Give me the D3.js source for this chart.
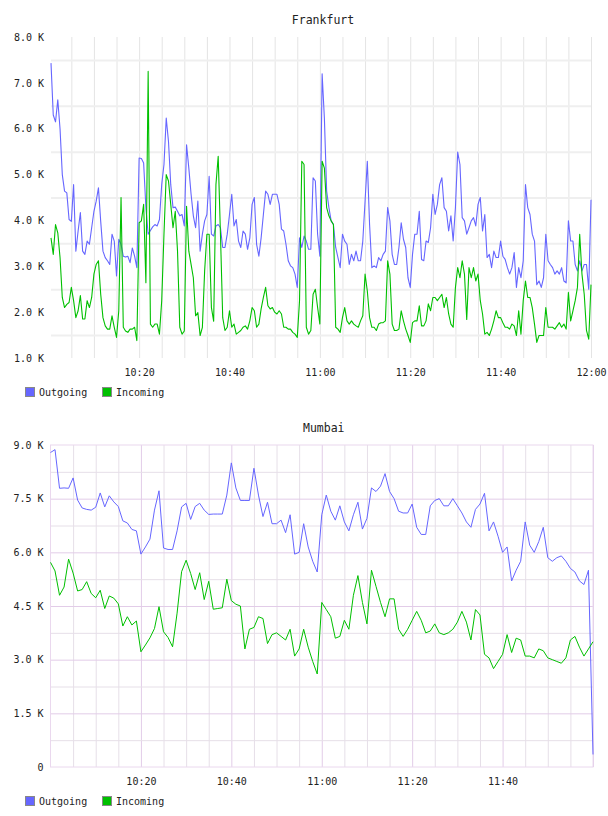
<!DOCTYPE html>
<html>
<head>
<meta charset="utf-8">
<script src="https://cdn.jsdelivr.net/npm/d3@7"></script>
<style>
  html, body { margin: 0; padding: 0; background: #fff; }
  svg { display: block; }
  text { font-family: "DejaVu Sans Mono", monospace; fill: #222; }
</style>
</head>
<body>
<div id="chart"></div>
<script>
// values in thousands, Frankfurt sampled every 30 s from 10:00:30
const frankfurtOut = [
  7.43, 6.30, 6.15, 6.63, 6.00, 5.00, 4.64, 4.60, 4.02, 3.98,
  4.78, 3.33, 3.77, 4.17, 3.33, 3.26, 3.55, 3.48, 3.84, 4.20,
  4.42, 4.71, 3.98, 3.33, 3.19, 3.12, 3.04, 3.70, 3.55, 2.79,
  3.59, 3.48, 3.22, 3.20, 3.22, 3.08, 3.40, 3.22, 2.97, 5.36,
  5.35, 5.25, 4.28, 3.70, 3.78, 3.86, 3.91, 3.88, 4.02, 4.78,
  5.22, 6.23, 5.72, 4.78, 4.28, 4.29, 4.20, 4.10, 4.13, 3.88,
  5.65, 5.14, 4.57, 4.10, 3.84, 4.42, 3.33, 3.70, 3.99, 4.13,
  4.96, 3.70, 3.66, 3.88, 3.91, 3.84, 3.41, 3.41, 3.70, 4.13,
  4.57, 3.88, 4.02, 3.55, 3.41, 3.77, 3.70, 3.37, 3.62, 4.35,
  4.50, 3.48, 3.22, 3.62, 4.13, 4.64, 4.57, 4.35, 4.57, 4.57,
  4.57, 4.35, 3.81, 3.77, 3.48, 3.12, 3.01, 2.97, 2.83, 2.54,
  3.62, 3.41, 3.66, 3.55, 3.37, 3.37, 4.93, 4.86, 3.70, 3.22,
  7.20, 6.23, 4.64, 4.28, 3.99, 3.91, 3.41, 3.19, 2.97, 3.70,
  3.55, 3.48, 3.04, 3.26, 3.12, 3.33, 3.12, 3.12, 3.55, 4.42,
  5.29, 3.91, 2.97, 3.01, 2.97, 3.19, 3.12, 3.26, 3.33, 4.28,
  3.99, 3.26, 3.04, 3.04, 3.41, 3.95, 3.59, 3.41, 2.75, 2.54,
  3.26, 3.70, 3.70, 4.20, 3.15, 3.12, 3.55, 3.52, 3.84, 4.57,
  4.13, 4.35, 4.78, 4.93, 4.28, 4.20, 3.77, 4.10, 3.55, 4.28,
  5.49, 5.22, 4.06, 3.99, 3.70, 3.84, 3.99, 4.06, 3.88, 4.35,
  4.50, 3.77, 4.13, 3.19, 3.26, 2.97, 3.33, 3.19, 3.19, 3.55,
  3.22, 3.15, 2.97, 2.83, 2.97, 3.30, 2.54, 2.97, 2.75, 3.12,
  4.78, 4.28, 4.13, 3.70, 3.55, 2.60, 2.68, 2.54, 2.75, 3.70,
  3.12, 3.04, 2.97, 2.83, 2.90, 2.83, 2.97, 2.68, 2.64, 3.99,
  3.55, 3.55, 3.04, 2.90, 3.12, 2.90, 3.04, 3.04, 2.50, 4.45
];
const frankfurtIn = [
  3.62, 3.26, 3.91, 3.73, 3.19, 2.32, 2.10, 2.17, 2.21, 2.54,
  2.25, 1.88, 2.03, 2.36, 1.85, 1.85, 2.25, 2.10, 2.32, 2.83,
  3.04, 3.12, 2.39, 1.88, 1.70, 1.63, 1.63, 1.92, 1.67, 1.45,
  2.03, 4.50, 1.67, 1.59, 1.56, 1.63, 1.63, 1.67, 1.38, 3.95,
  3.99, 4.35, 2.64, 7.25, 1.74, 1.67, 1.74, 1.74, 1.52, 2.25,
  3.70, 5.00, 4.86, 4.35, 3.84, 4.20, 3.33, 1.67, 1.52, 1.59,
  4.31, 3.33, 3.04, 2.75, 1.92, 1.99, 1.49, 1.67, 2.90, 3.70,
  3.70, 2.10, 1.80, 4.78, 5.40, 3.70, 1.88, 1.60, 1.67, 2.03,
  1.67, 1.74, 1.52, 1.56, 1.60, 1.67, 1.70, 1.63, 1.81, 2.10,
  2.03, 1.67, 1.74, 2.07, 2.32, 2.54, 2.14, 2.07, 2.10, 2.00,
  1.96, 2.03, 1.96, 1.67, 1.67, 1.63, 1.63, 1.56, 1.52, 1.45,
  2.25, 5.29, 5.22, 1.67, 1.52, 1.60, 2.39, 2.50, 2.10, 1.74,
  5.29, 5.14, 4.28, 4.10, 3.99, 3.91, 1.67, 1.63, 1.56, 1.88,
  2.10, 1.81, 1.74, 1.81, 1.74, 1.70, 1.67, 1.81, 1.92, 2.83,
  2.46, 1.88, 1.67, 1.67, 1.60, 1.74, 1.77, 1.77, 1.81, 3.12,
  2.83, 1.74, 1.60, 1.60, 1.63, 2.03, 1.81, 1.63, 1.49, 1.34,
  1.77, 1.81, 1.81, 2.14, 1.70, 1.70, 1.81, 2.18, 2.03, 2.32,
  2.32, 2.25, 2.32, 2.39, 2.10, 2.32, 1.96, 1.74, 1.67, 2.54,
  2.97, 2.75, 3.12, 2.83, 1.84, 2.97, 2.75, 2.97, 2.68, 2.83,
  2.25, 1.96, 1.52, 1.56, 1.49, 1.63, 1.81, 2.03, 1.88, 1.88,
  1.77, 1.67, 1.67, 1.63, 1.74, 1.70, 1.49, 2.03, 1.52, 2.25,
  2.68, 2.32, 2.32, 2.10, 1.74, 1.34, 1.49, 1.49, 1.49, 2.10,
  1.67, 1.67, 1.67, 1.63, 1.70, 1.77, 1.67, 1.74, 1.63, 2.43,
  1.81, 2.03, 2.25, 2.54, 3.70, 2.83, 2.39, 1.60, 1.41, 2.60
];

// Mumbai sampled every minute from 10:00
const mumbaiOut = [
  8.79, 8.87, 7.79, 7.80, 7.79, 8.08, 7.46, 7.24, 7.20, 7.18,
  7.26, 7.66, 7.27, 7.58, 7.41, 7.28, 6.88, 6.82, 6.64, 6.60,
  5.95, 6.15, 6.37, 7.18, 7.72, 6.12, 6.08, 6.08, 6.60, 7.27,
  7.37, 6.92, 7.28, 7.37, 7.18, 7.06, 7.07, 7.07, 7.07, 7.60,
  8.50, 7.80, 7.45, 7.45, 7.45, 8.35, 7.60, 7.00, 7.40, 6.80,
  6.80, 6.90, 6.55, 7.05, 5.95, 6.00, 6.80, 6.15, 5.75, 5.45,
  7.05, 7.60, 7.15, 6.90, 7.30, 6.85, 6.60, 7.05, 7.40, 6.65,
  6.95, 7.80, 7.70, 7.85, 8.20, 7.70, 7.50, 7.15, 7.10, 7.10,
  7.35, 6.70, 6.50, 6.50, 7.30, 7.45, 7.50, 7.30, 7.30, 7.50,
  7.30, 7.10, 6.85, 6.70, 7.20, 7.35, 7.65, 6.60, 6.85, 6.45,
  6.00, 6.15, 5.20, 5.50, 5.75, 6.85, 6.20, 6.00, 6.30, 6.70,
  5.85, 5.75, 5.85, 5.90, 5.75, 5.55, 5.45, 5.20, 5.10, 5.50,
  0.35
];
const mumbaiIn = [
  5.72, 5.48, 4.80, 5.03, 5.81, 5.42, 4.92, 4.96, 5.18, 4.85,
  4.73, 4.94, 4.43, 4.78, 4.72, 4.56, 3.94, 4.20, 3.97, 4.08,
  3.22, 3.41, 3.61, 3.87, 4.48, 3.78, 3.62, 3.36, 4.30, 5.46,
  5.78, 5.41, 4.96, 5.43, 4.68, 5.19, 4.41, 4.43, 4.45, 5.25,
  4.65, 4.55, 4.50, 3.30, 3.85, 3.90, 4.20, 4.15, 3.45, 3.70,
  3.75, 3.65, 3.55, 3.85, 3.10, 3.30, 3.85, 3.35, 2.95, 2.60,
  4.60, 4.40, 4.20, 3.60, 3.65, 4.10, 3.85, 4.80, 5.35, 4.60,
  4.00, 5.50, 5.05, 4.60, 4.20, 4.70, 4.70, 3.85, 3.65, 3.85,
  4.10, 4.35, 4.10, 3.75, 3.80, 4.00, 3.75, 3.70, 3.75, 3.85,
  4.05, 4.35, 4.05, 3.55, 4.40, 4.25, 3.15, 3.05, 2.75, 2.95,
  3.15, 3.70, 3.20, 3.60, 3.55, 3.10, 3.10, 3.05, 3.30, 3.25,
  3.05, 3.00, 2.95, 2.90, 3.05, 3.55, 3.65, 3.35, 3.10, 3.30,
  3.50
];

const seriesNames = ['Outgoing', 'Incoming'];
const seriesColors = ['#6666ff', '#00c000'];

const frankfurtYTicks = [1, 2, 3, 4, 5, 6, 7, 8];
const frankfurtYGrid = [1.5, 2.5, 3.5, 4.5, 5.5, 6.5, 7.5];
const mumbaiYTicks = [0, 1.5, 3, 4.5, 6, 7.5, 9];
const mumbaiYGrid = [0.75, 2.25, 3.75, 5.25, 6.75, 8.25];

const t = (h, m, s) => new Date(2020, 0, 1, h, m, s || 0);
const frankfurtXTicks = [t(10, 20), t(10, 40), t(11, 0), t(11, 20), t(11, 40), t(12, 0)];
const mumbaiXTicks = [t(10, 20), t(10, 40), t(11, 0), t(11, 20), t(11, 40)];

const W = 608, H = 816;
const svg = d3.select('#chart').append('svg')
    .attr('width', W)
    .attr('height', H);

const kFormat = v => v === 0 ? '0' : `${v.toFixed(1)} K`;
const timeFmt = d3.timeFormat('%H:%M');

function drawChart(cfg) {
    const g = svg.append('g');
    const x = d3.scaleTime().domain(cfg.xDomain).range([cfg.left, cfg.right]);
    const y = d3.scaleLinear().domain(cfg.yDomain).range([cfg.bottom, cfg.top]);
    const w = cfg.right - cfg.left, h = cfg.bottom - cfg.top;

    // 5 minute vertical grid
    const fiveMin = d3.timeMinute.every(5).range(cfg.xDomain[0], d3.timeSecond.offset(cfg.xDomain[1], 1))
        .filter(d => x(d) > cfg.left + 2);

    const gridV = g.append('g')
        .attr('transform', `translate(0,${cfg.top})`)
        .call(d3.axisBottom(x).tickValues(fiveMin).tickSize(h).tickFormat(''));
    gridV.select('.domain').remove();
    gridV.selectAll('line')
        .attr('stroke', d => cfg.isMajorX(d) ? cfg.majorColor : cfg.gridVColor)
        .attr('stroke-width', 1);

    const gridH = g.append('g')
        .attr('transform', `translate(${cfg.left},0)`)
        .call(d3.axisRight(y).tickValues(cfg.yGrid.concat(cfg.yMajorGrid)).tickSize(w).tickFormat(''));
    gridH.select('.domain').remove();
    gridH.selectAll('line')
        .attr('stroke', d => cfg.yMajorGrid.includes(d) ? cfg.majorColor : cfg.gridHColor)
        .attr('stroke-width', cfg.gridHWidth);

    if (cfg.border) {
        g.append('rect')
            .attr('x', cfg.left).attr('y', cfg.top)
            .attr('width', w).attr('height', h)
            .attr('fill', 'none')
            .attr('stroke', cfg.border);
    }

    // y labels
    const yAxis = g.append('g')
        .attr('transform', `translate(${cfg.left},0)`)
        .call(d3.axisLeft(y).tickValues(cfg.yTicks).tickSize(0).tickPadding(7).tickFormat(kFormat));
    yAxis.select('.domain').remove();
    yAxis.selectAll('text')
        .attr('font-family', '"DejaVu Sans Mono", monospace')
        .attr('font-size', 10)
        .attr('fill', '#222');

    // x labels
    const xAxis = g.append('g')
        .attr('transform', `translate(0,${cfg.bottom})`)
        .call(d3.axisBottom(x).tickValues(cfg.xTicks).tickSize(0).tickPadding(11).tickFormat(timeFmt));
    xAxis.select('.domain').remove();
    xAxis.selectAll('text')
        .attr('font-family', '"DejaVu Sans Mono", monospace')
        .attr('font-size', 10)
        .attr('fill', '#222');

    // lines, incoming drawn after outgoing
    const line = d3.line()
        .x((d, i) => x(d3.timeSecond.offset(cfg.start, i * cfg.step)))
        .y(d => y(d));

    [cfg.outValues, cfg.inValues].forEach((vals, k) => {
        g.append('path')
            .datum(vals)
            .attr('d', line)
            .attr('fill', 'none')
            .attr('stroke', seriesColors[k])
            .attr('stroke-width', cfg.lineWidth)
            .attr('stroke-linejoin', 'round');
    });

    // title
    g.append('text')
        .attr('x', (cfg.left + cfg.right) / 2 + 2)
        .attr('y', cfg.titleY)
        .attr('text-anchor', 'middle')
        .attr('font-size', 11.5)
        .attr('fill', '#333')
        .text(cfg.title);

    // legend
    const legend = g.append('g').attr('transform', `translate(25,${cfg.legendY})`);
    seriesNames.forEach((name, k) => {
        const off = k * 77;
        legend.append('rect')
            .attr('x', off + 0.5).attr('y', 0.5)
            .attr('width', 9).attr('height', 9)
            .attr('fill', seriesColors[k])
            .attr('stroke', '#888');
        legend.append('text')
            .attr('x', off + 14)
            .attr('y', 8.5)
            .attr('font-size', 10)
            .attr('fill', '#222')
            .text(name);
    });
}

drawChart({
    title: 'Frankfurt',
    titleY: 24,
    left: 51, right: 591, top: 37, bottom: 358,
    xDomain: [t(10, 0, 30), t(12, 0)],
    yDomain: [1, 8],
    start: t(10, 0, 30), step: 30,
    outValues: frankfurtOut, inValues: frankfurtIn,
    yTicks: frankfurtYTicks, yGrid: frankfurtYGrid, yMajorGrid: [],
    xTicks: frankfurtXTicks,
    isMajorX: () => false,
    gridVColor: '#e4e4e4', gridHColor: '#efefef', majorColor: '#e4e4e4', gridHWidth: 2,
    border: null,
    lineWidth: 1.1,
    legendY: 387
});

drawChart({
    title: 'Mumbai',
    titleY: 432,
    left: 50.5, right: 593, top: 445, bottom: 767,
    xDomain: [t(10, 0), t(12, 0)],
    yDomain: [0, 9],
    start: t(10, 0), step: 60,
    outValues: mumbaiOut, inValues: mumbaiIn,
    yTicks: mumbaiYTicks, yGrid: mumbaiYGrid, yMajorGrid: [1.5, 3, 4.5, 6, 7.5],
    xTicks: mumbaiXTicks,
    isMajorX: d => d.getMinutes() % 20 === 0,
    gridVColor: '#e6dfe8', gridHColor: '#e6dfe8', majorColor: '#e2cce8', gridHWidth: 1,
    border: '#ead8ee',
    lineWidth: 1,
    legendY: 796
});
</script>
</body>
</html>
